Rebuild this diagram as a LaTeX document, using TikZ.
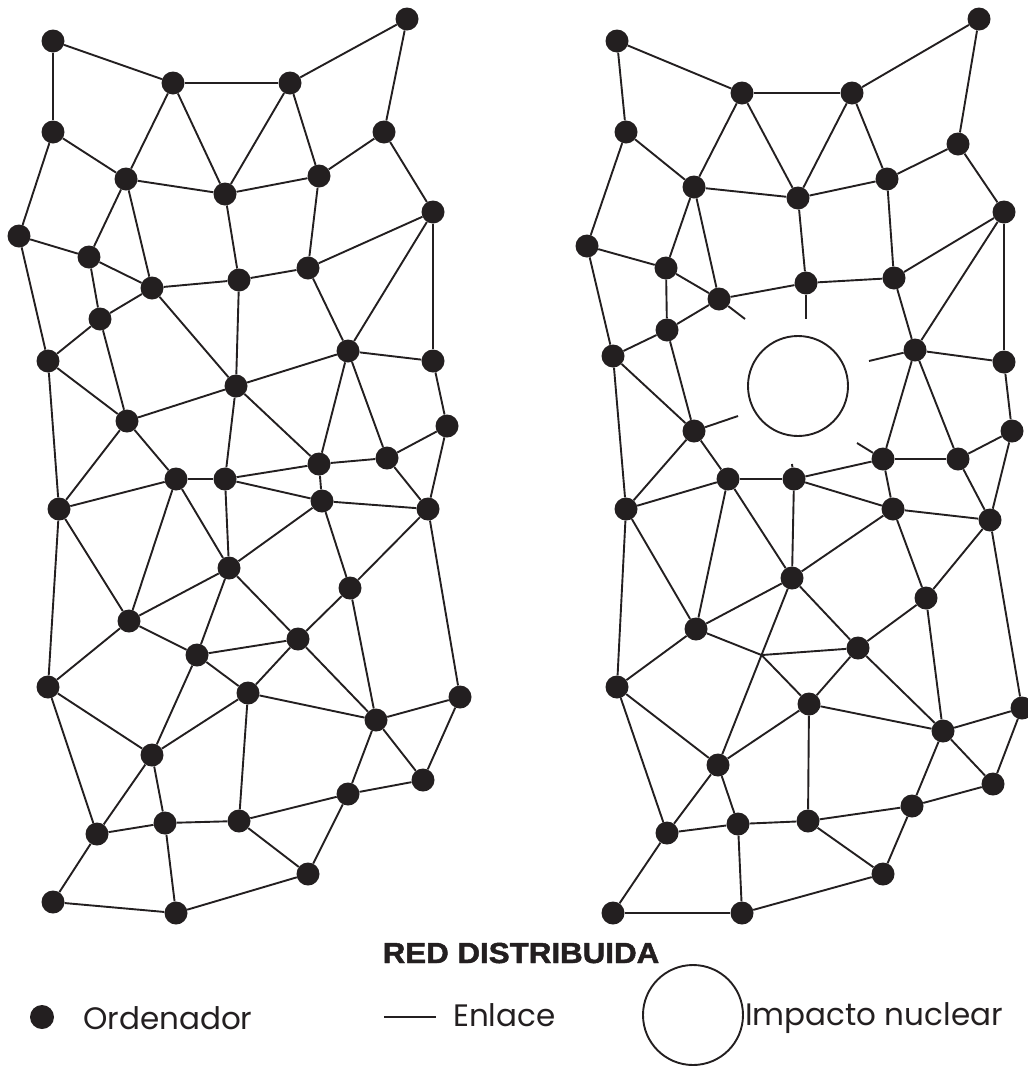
\documentclass[tikz,border=0pt]{standalone}
\usepackage{fontspec}
\usepackage{graphicx}
\setmainfont{Poppins}
\newfontfamily\titlefont[BoldFeatures={FakeBold=1.6}]{Liberation Sans}
\usetikzlibrary{calc}
\definecolor{ink}{RGB}{35,31,32}
\begin{document}
\begin{tikzpicture}[x=1pt,y=-1pt,
  dot/.style={circle,fill=ink,inner sep=0pt,minimum size=23pt},
  link/.style={draw=ink,line width=1.9pt},
  lbl/.style={anchor=base west,inner sep=0pt,text=ink,font=\fontsize{31}{31}\selectfont}]
\useasboundingbox (0,0) rectangle (1028,1066);
% ---------------- left network ----------------
\foreach \n/\x/\y in {L1/53/41,L2/407/19,L3/173/83,L4/290/83,L5/53/132,L6/384/132,L7/126/179,L8/225/194,
  L9/319/176,L10/433/212,L11/19/236,L12/89/257,L13/152/288,L14/239/280,L15/308/268,L16/100/319,
  L17/48/361,L18/236/386,L19/348/351,L20/433/361,L21/127/421,L22/447/426,L23/319/464,L24/387/458,
  L25/176/479,L26/225/479,L27/322/501,L28/59/509,L29/428/509,L30/229/568,L31/350/588,L32/129/621,
  L33/298/639,L34/197/655,L35/48/687,L36/248/693,L37/376/720,L38/460/697,L39/152/755,L40/423/780,
  L41/348/794,L42/97/834,L43/165/823,L44/239/821,L45/308/874,L46/53/902,L47/176/913}
  \node[dot] (\n) at (\x,\y) {};
\foreach \a/\b in {1/3,1/5,3/4,4/2,2/6,3/7,3/8,4/8,4/9,5/7,5/11,6/9,6/10,7/8,8/9,7/13,7/12,8/14,9/15,
  15/10,11/12,12/13,12/16,13/14,14/15,10/19,10/20,15/19,11/17,13/16,13/18,14/18,
  16/17,17/21,16/21,17/28,18/19,18/21,18/26,18/23,19/20,19/23,19/24,20/22,22/24,22/29,21/28,21/25,
  25/26,25/28,26/23,26/27,23/24,23/27,27/29,24/29,25/32,25/30,26/30,28/32,28/35,30/27,30/32,30/34,
  30/33,27/31,29/31,31/33,31/37,29/38,
  32/34,32/35,33/34,33/36,33/37,34/36,34/39,36/39,36/37,36/44,35/39,35/42,37/38,37/40,37/41,38/40,
  39/42,39/43,42/43,43/44,44/41,44/45,41/40,41/45,42/46,46/47,47/45,43/47}
  \draw[link] (L\a) -- (L\b);
% ---------------- right network ----------------
\foreach \n/\x/\y in {R1/617/41,R2/979/19,R3/742/93,R4/852/93,R5/626/132,R6/958/144,R7/694/187,R8/798/198,
  R9/887/179,R10/1004/212,R11/587/246,R12/666/268,R13/719/299,R14/806/283,R15/894/278,R16/667/330,
  R17/613/356,R18/915/350,R19/1004/362,R20/694/431,R21/1012/431,R22/883/459,R23/958/459,R24/728/479,
  R25/794/479,R26/893/509,R27/626/509,R28/990/520,R29/792/578,R30/926/598,R31/696/629,R32/858/648,
  R33/617/687,R34/809/704,R35/943/731,R36/1022/708,R37/718/765,R38/993/784,R39/912/806,R40/667/833,
  R41/738/824,R42/808/821,R43/883/874,R44/613/913,R45/742/913}
  \node[dot] (\n) at (\x,\y) {};
\foreach \a/\b in {1/3,1/5,3/4,4/2,2/6,3/7,3/8,4/8,4/9,5/7,5/11,6/9,6/10,7/8,8/9,7/12,7/13,8/14,9/15,
  10/15,10/18,10/19,11/12,12/13,12/16,13/14,14/15,11/17,15/18,13/16,
  16/17,16/20,17/20,17/27,18/19,18/22,18/23,19/21,21/23,21/28,22/23,22/25,22/26,23/28,20/24,20/27,
  24/25,24/27,24/31,24/29,25/29,25/26,26/28,26/29,26/30,28/30,27/31,27/33,29/31,29/37,29/32,30/32,
  30/35,28/36,
  31/33,32/34,32/35,33/37,33/40,34/37,34/42,34/35,35/36,35/38,35/39,36/38,37/40,37/41,39/42,
  39/38,39/43,40/41,40/44,41/42,41/45,42/43,44/45,45/43}
  \draw[link] (R\a) -- (R\b);
% junction without a computer
\coordinate (X) at ($(R37)!0.588!(R29)$);
\draw[link] (R31) -- (X) -- (R34);
\draw[link] (R32) -- (X);
% cut links around the impact
\coordinate (s13) at (745,319);
\coordinate (s14) at (806,319);
\coordinate (s18) at (869,361);
\coordinate (s20) at (738,416);
\coordinate (s22) at (857,443);
\coordinate (s25) at (792,464);
\foreach \n in {13,14,18,20,22,25} \draw[link] (R\n) -- (s\n);
\node[circle,draw=ink,line width=1.9pt,minimum size=100pt,inner sep=0pt] (impact) at (798,386) {};
% ---------------- legend ----------------
\node[anchor=base,inner sep=0pt,text=ink,font=\titlefont\bfseries\fontsize{29}{29}\selectfont] (title) at (521,963) {\scalebox{1.08}[1]{RED DISTRIBUIDA}};
\node[dot,minimum size=24pt] (legdot) at (42,1017) {};
\node[lbl] (tord) at (83,1029) {Ordenador};
\coordinate (la) at (384,1017);
\coordinate (lb) at (436,1017);
\draw[link] (la) -- (lb);
\node[lbl] (tenl) at (453,1026) {Enlace};
\node[circle,draw=ink,line width=1.9pt,minimum size=100pt,inner sep=0pt] (legcirc) at (693,1015) {};
\node[lbl] (timp) at (745,1025) {Impacto nuclear};
\end{tikzpicture}
\end{document}
